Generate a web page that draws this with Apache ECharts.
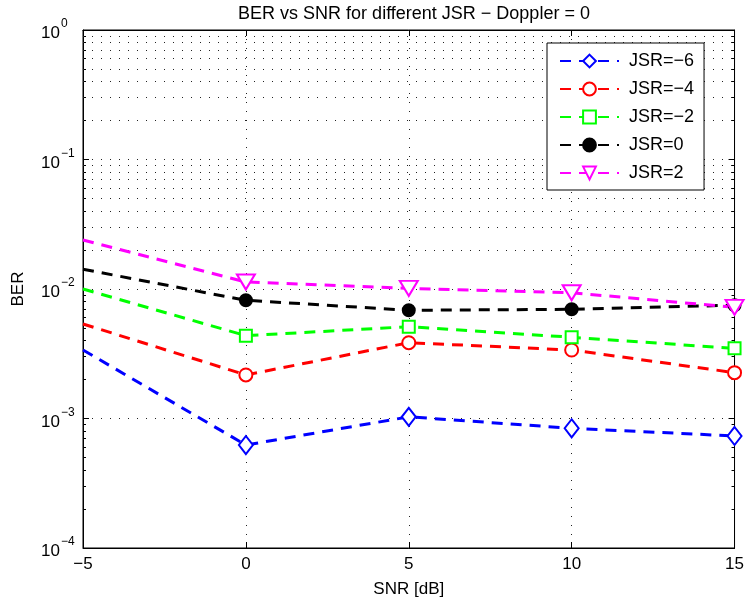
<!DOCTYPE html>
<html>
<head>
<meta charset="utf-8">
<script src="https://cdn.jsdelivr.net/npm/echarts@6/dist/echarts.min.js"></script>
<style>html,body{margin:0;padding:0;background:#fff}#c{width:747px;height:603px}</style>
</head>
<body>
<div id="c"></div>
<script>
const snr = [-5, 0, 5, 10, 15];
const jsrM6 = [0.00338, 0.000624, 0.00103, 0.00084, 0.000733];
const jsrM4 = [0.00537, 0.00217, 0.00385, 0.00338, 0.00226];
const jsrM2 = [0.0100, 0.00436, 0.00512, 0.00424, 0.00348];
const jsr0 = [0.0142, 0.00818, 0.00685, 0.00697, 0.0075];
const jsr2 = [0.0239, 0.01133, 0.0101, 0.00936, 0.00722];
const seriesNames = ['JSR=\u22126', 'JSR=\u22124', 'JSR=\u22122', 'JSR=0', 'JSR=2'];
const xTicks = [-5, 0, 5, 10, 15];
const yDecades = [1e-4, 1e-3, 1e-2, 1e-1, 1];
const minorMult = [2, 3, 4, 5, 6, 7, 8, 9];

const FONT = 'Liberation Sans, Arial, sans-serif';
const minorValues = [];
for (let i = 0; i < yDecades.length - 1; i++) {
  for (const m of minorMult) minorValues.push(yDecades[i] * m);
}
const minorLines = minorValues.map(v => ({ yAxis: v }));

function mk(name, vals, color, symbol, size, rotate) {
  return {
    name: name,
    type: 'line',
    data: snr.map((x, i) => i === 0 ? { value: [x, vals[i]], symbol: 'none' } : [x, vals[i]]),
    symbol: symbol,
    symbolSize: size,
    symbolRotate: rotate || 0,
    showAllSymbol: true,
    lineStyle: { color: color, width: 3, type: [11, 8] },
    itemStyle: { color: color, borderColor: color, borderWidth: 2 },
    emphasis: { disabled: true },
    animation: false,
    clip: false,
    z: 3
  };
}

const series = [
  mk(seriesNames[0], jsrM6, '#0000ff', 'emptyDiamond', [14, 18]),
  mk(seriesNames[1], jsrM4, '#ff0000', 'emptyCircle', 13),
  mk(seriesNames[2], jsrM2, '#00ff00', 'emptyRect', 12),
  mk(seriesNames[3], jsr0, '#000000', 'circle', 12),
  mk(seriesNames[4], jsr2, '#ff00ff', 'emptyTriangle', [18, 15], 180)
];
series[0].markLine = {
  silent: true, symbol: 'none', label: { show: false },
  lineStyle: { color: '#222', width: 1, type: [1, 8] },
  data: minorLines, animation: false, z: 1
};

const chart = echarts.init(document.getElementById('c'), null, { renderer: 'canvas' });
const dottedSplit = { show: true, lineStyle: { color: '#222', width: 1, type: [1, 8] } };
const tickStyle = { show: true, inside: true, length: 6, lineStyle: { color: '#000' } };
const minorAxis = (pos) => ({
  type: 'log', logBase: 10, min: 1e-4, max: 1, position: pos,
  axisLine: { show: false, onZero: false },
  axisTick: { show: true, inside: true, length: 3, lineStyle: { color: '#000' }, customValues: minorValues },
  axisLabel: { show: false }, splitLine: { show: false }
});
chart.setOption({
  backgroundColor: '#fff',
  animation: false,
  title: {
    text: 'BER vs SNR for different JSR \u2212 Doppler = 0',
    left: 409, top: 0, textAlign: 'center',
    textStyle: { fontFamily: FONT, fontSize: 18, fontWeight: 'normal', color: '#000' }
  },
  grid: { left: 83, right: 12, top: 30, bottom: 55, show: true, borderColor: '#000', borderWidth: 1, backgroundColor: '#fff' },
  legend: {
    orient: 'vertical', left: 547, top: 43,
    data: seriesNames,
    backgroundColor: '#fff', borderColor: '#000', borderWidth: 1,
    padding: [9, 10, 8, 12],
    itemWidth: 59, itemHeight: 16, itemGap: 10,
    textStyle: { fontFamily: FONT, fontSize: 18, color: '#000', padding: [0, 0, 0, 5] },
    z: 10
  },
  xAxis: [{
    type: 'value', min: -5, max: 15, interval: 5,
    name: 'SNR [dB]', nameLocation: 'middle', nameGap: 33,
    nameTextStyle: { fontFamily: FONT, fontSize: 17, color: '#000' },
    axisLine: { onZero: false, lineStyle: { color: '#000' } },
    axisTick: tickStyle,
    axisLabel: { fontFamily: FONT, fontSize: 17, color: '#000', margin: 8,
      formatter: v => (v < 0 ? '\u2212' + Math.abs(v) : '' + v) },
    splitLine: dottedSplit
  }, {
    type: 'value', min: -5, max: 15, interval: 5, position: 'top',
    axisLine: { onZero: false, lineStyle: { color: '#000' } },
    axisTick: tickStyle,
    axisLabel: { show: false }, splitLine: { show: false }
  }],
  yAxis: [{
    type: 'log', logBase: 10, min: 1e-4, max: 1,
    name: 'BER', nameLocation: 'middle', nameGap: 56, nameRotate: 90,
    nameTextStyle: { fontFamily: FONT, fontSize: 17, color: '#000' },
    axisLine: { show: true, onZero: false, lineStyle: { color: '#000' } },
    axisTick: tickStyle,
    axisLabel: {
      fontFamily: FONT, color: '#000', margin: 42, align: 'left',
      formatter: v => {
        const e = Math.round(Math.log10(v));
        return '{b|10}{s|' + (e < 0 ? '\u2212' + Math.abs(e) : '' + e) + '}';
      },
      rich: {
        b: { fontFamily: FONT, fontSize: 17, color: '#000', verticalAlign: 'bottom', padding: [7, 0, 0, 0] },
        s: { fontFamily: FONT, fontSize: 12, color: '#000', verticalAlign: 'top', padding: [0, 0, 9, 1] }
      }
    },
    splitLine: dottedSplit
  }, {
    type: 'log', logBase: 10, min: 1e-4, max: 1, position: 'right',
    axisLine: { show: true, onZero: false, lineStyle: { color: '#000' } },
    axisTick: tickStyle,
    axisLabel: { show: false }, splitLine: { show: false }
  }, minorAxis('left'), minorAxis('right')],
  series: series
});
</script>
</body>
</html>
